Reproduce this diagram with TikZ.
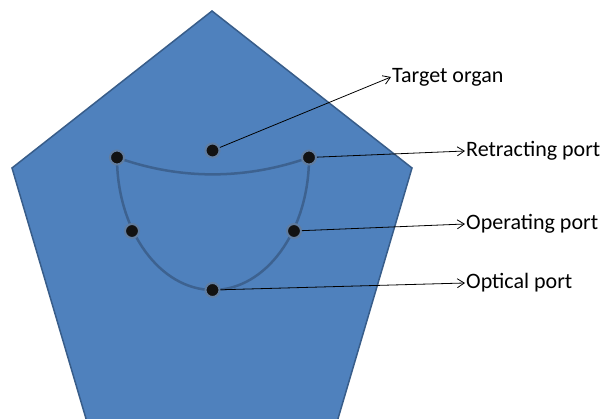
\documentclass[tikz,border=0pt]{standalone}
\usepackage{fontspec}
\setmainfont{Carlito}
\usepackage{tikz}
\usetikzlibrary{arrows.meta}

\definecolor{bodyblue}{HTML}{4F81BD}
\definecolor{edgeblue}{HTML}{385D8A}
\definecolor{trackblue}{HTML}{3D6290}

\begin{document}
\begin{tikzpicture}[x=1pt,y=1pt,
    port/.style={circle,fill=black!93,draw=edgeblue!80,line width=2pt,inner sep=0pt,minimum size=14pt},
    lbl/.style={anchor=west,inner sep=1pt,font=\fontsize{22}{26}\selectfont},
    pointer/.style={-{Straight Barb[length=7pt,width=9pt]},line width=0.8pt}]

\useasboundingbox (0,0) rectangle (611,419);

% Pentagon body, cut off at the bottom
\begin{scope}
\clip (0,0) rectangle (611,419);
\filldraw[fill=bodyblue,draw=edgeblue,line width=1.5pt]
  (212,408) -- (412,251) -- (332,-20) -- (92,-20) -- (12,251) -- cycle;
\end{scope}

% Track of the ports
\coordinate (ta) at (117,261.5);
\coordinate (tb) at (309,261.5);
\draw[trackblue,line width=2.5pt] (ta) .. controls (180,239) and (245,239) .. (tb);
\draw[trackblue,line width=2.5pt] (ta) arc[start angle=180,end angle=360,x radius=96,y radius=132.5];

% Ports
\node[port] (organ)   at (212.5,268.5) {};
\node[port] (leftup)  at (ta) {};
\node[port] (retract) at (tb) {};
\node[port] (leftmid) at (132,188) {};
\node[port] (operate) at (294,188) {};
\node[port] (optic)   at (212.5,129) {};

% Labels
\node[lbl] (organlbl)   at (391,342) {Target organ};
\node[lbl] (retractlbl) at (465,268) {Retracting port};
\node[lbl] (operatelbl) at (465,195) {Operating port};
\node[lbl] (opticlbl)   at (465,136) {Optical port};

\draw[pointer] (organ) -- (organlbl.west);
\draw[pointer] (retract) -- (retractlbl.west);
\draw[pointer] (operate) -- (operatelbl.west);
\draw[pointer] (optic) -- (opticlbl.west);

\end{tikzpicture}
\end{document}
